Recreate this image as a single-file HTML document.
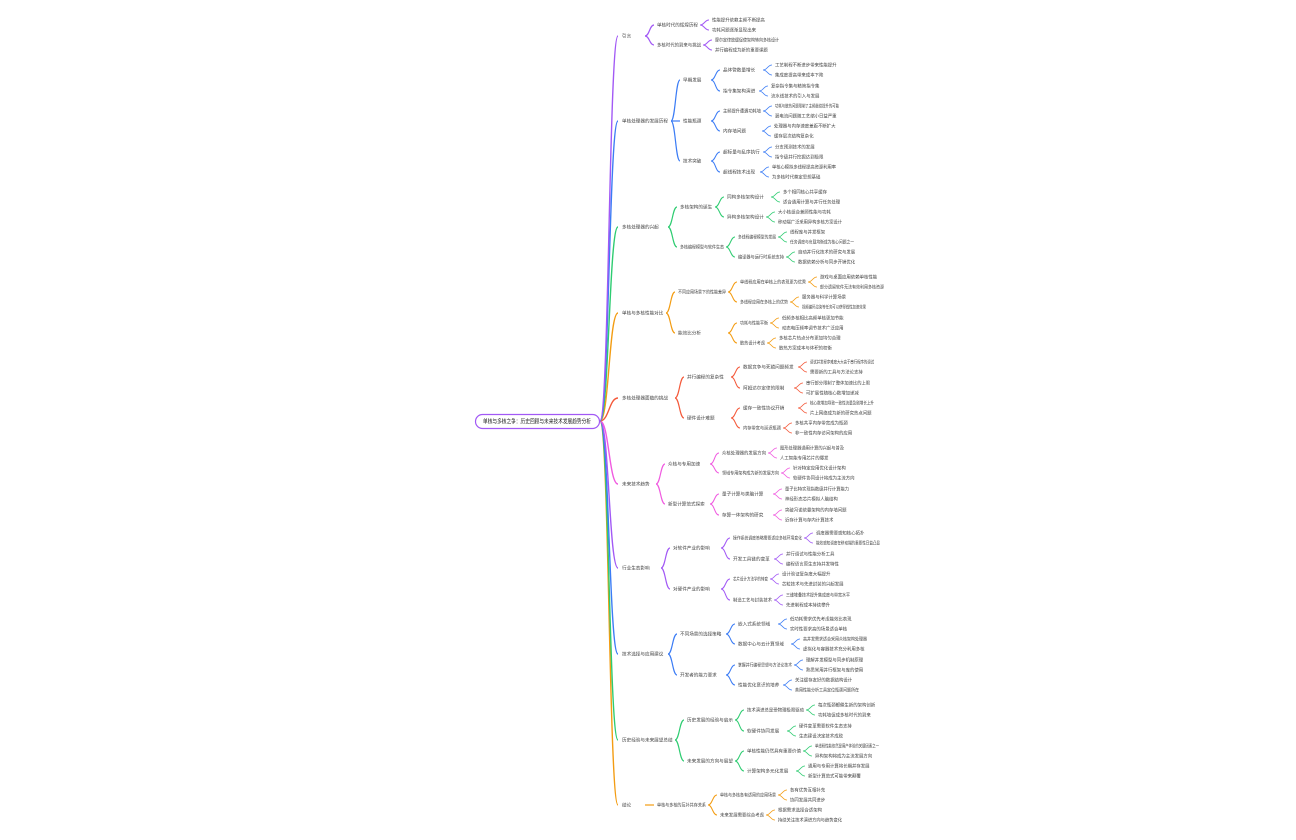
<!DOCTYPE html>
<html><head><meta charset="utf-8"><style>
html,body{margin:0;padding:0;background:#fff;width:1296px;height:840px;overflow:hidden}
svg text{font-family:"Liberation Sans","Noto Sans CJK SC",sans-serif;font-size:4.6px;fill:#444}
</style></head><body>
<svg id="m" width="1296" height="840" xmlns="http://www.w3.org/2000/svg">
<rect x="475.5" y="414.5" width="124" height="14" rx="7" fill="#fff" stroke="#a259f5" stroke-width="1.2"/>
<text x="483" y="423.5" style="font-size:6px;fill:#222" textLength="108" lengthAdjust="spacingAndGlyphs">单核与多核之争：历史回顾与未来技术发展趋势分析</text>
</svg>
<script>
var C=["#a259f5","#3b7cf5","#2ecc71","#f39c12","#f4593a","#f05be0","#a259f5","#3b7cf5","#2ecc71","#f39c12"];
function N(t,x,y,k){return {t:t,x:x,y:y,k:k||[]};}
function L(x,y,a,b){return [N(a,x,y-5),N(b,x,y+5)];}
var D=[
N("引言",622,36,[N("单核时代的辉煌历程",657,25,L(712,25,"性能提升依赖主频不断提高","功耗问题逐渐显现出来")),N("多核时代的到来与挑战",657,45,L(715,45,"摩尔定律放缓促使架构转向多核设计","并行编程成为新的重要课题"))]),
N("单核处理器的发展历程",622,121,[
 N("早期发展",683,80,[N("晶体管数量增长",723,70,L(775,70,"工艺制程不断进步带来性能提升","集成度提高带来成本下降")),N("指令集架构演进",723,91,L(771,91,"复杂指令集与精简指令集","流水线技术的引入与发展"))]),
 N("性能瓶颈",683,121,[N("主频提升遭遇功耗墙",723,111,L(775,111,"功耗与散热问题限制了主频继续提升的可能","漏电流问题随工艺缩小日益严重")),N("内存墙问题",723,131,L(774,131,"处理器与内存速度差距不断扩大","缓存层次结构复杂化"))]),
 N("技术突破",683,161,[N("超标量与乱序执行",723,152,L(775,152,"分支预测技术的发展","指令级并行挖掘达到极限")),N("超线程技术出现",723,172,L(772,172,"单核心模拟多线程提高资源利用率","为多核时代奠定思想基础"))])]),
N("多核处理器的兴起",622,227,[
 N("多核架构的诞生",680,207,[N("同构多核架构设计",727,197,L(783,197,"多个相同核心共享缓存","适合通用计算与并行任务处理")),N("异构多核架构设计",727,217,L(778,217,"大小核组合兼顾性能与功耗","移动端广泛采用异构多核方案设计"))]),
 N("多核编程模型与软件生态",680,247,[N("多线程编程模型的发展",738,237,L(790,237,"线程库与并发框架","任务调度与负载均衡成为核心问题之一")),N("编译器与运行时系统支持",738,257,L(798,257,"自动并行化技术的研究与发展","数据依赖分析与同步开销优化"))])]),
N("单核与多核性能对比",622,313,[
 N("不同应用场景下的性能差异",678,292,[N("单线程应用在单核上的表现更为优秀",740,282,L(820,282,"游戏与桌面应用依赖单核性能","部分遗留软件无法有效利用多核资源")),N("多线程应用在多核上的优势",740,302,L(802,302,"服务器与科学计算场景","视频编码渲染等任务可以获得线性加速效果"))]),
 N("能效比分析",678,333,[N("功耗与性能平衡",740,323,L(782,323,"低频多核相比高频单核更加节能","动态电压频率调节技术广泛应用")),N("散热设计考虑",740,343,L(779,343,"多核芯片热点分布更加均匀合理","散热方案成本与体积的权衡"))])]),
N("多核处理器面临的挑战",622,398,[
 N("并行编程的复杂性",687,377,[N("数据竞争与死锁问题频发",743,367,L(810,367,"调试并发程序难度大大高于串行程序的调试","需要新的工具与方法论支持")),N("阿姆达尔定律的限制",743,388,L(806,388,"串行部分限制了整体加速比的上限","可扩展性随核心数增加递减"))]),
 N("硬件设计难题",687,418,[N("缓存一致性协议开销",743,408,L(810,408,"核心数增加导致一致性流量急剧增长上升","片上网络成为新的研究热点问题")),N("内存带宽与延迟瓶颈",743,428,L(795,428,"多核共享内存带宽成为瓶颈","非一致性内存访问架构的应用"))])]),
N("未来技术趋势",622,484,[
 N("众核与专用加速",668,464,[N("众核处理器的发展方向",722,453,L(780,453,"图形处理器通用计算的兴起与普及","人工智能专用芯片的爆发")),N("领域专用架构成为新的发展方向",722,473,L(793,473,"针对特定应用优化设计架构","软硬件协同设计将成为主流方向"))]),
 N("新型计算范式探索",668,504,[N("量子计算与类脑计算",722,494,L(785,494,"量子比特实现指数级并行计算能力","神经形态芯片模拟人脑结构")),N("存算一体架构的研究",722,515,L(785,515,"突破冯诺依曼架构的内存墙问题","近存计算与存内计算技术"))])]),
N("行业生态影响",622,568,[
 N("对软件产业的影响",673,548,[N("操作系统调度策略需要适应多核环境变化",733,538,L(816,538,"调度器需要感知核心拓扑","能效感知调度在移动端的重要性日益凸显")),N("开发工具链的变革",733,559,L(786,559,"并行调试与性能分析工具","编程语言原生支持并发特性"))]),
 N("对硬件产业的影响",673,589,[N("芯片设计方法学的转变",733,579,L(782,579,"设计验证复杂度大幅提升","芯粒技术与先进封装的兴起发展")),N("制造工艺与封装技术",733,600,L(786,600,"三维堆叠技术提升集成度与带宽水平","先进制程成本持续攀升"))])]),
N("技术选择与应用建议",622,654,[
 N("不同场景的选择策略",680,634,[N("嵌入式系统领域",738,624,L(790,624,"低功耗需求优先考虑能效比表现","实时性要求高的场景适合单核")),N("数据中心与云计算领域",738,644,L(803,644,"高并发需求适合采用众核架构处理器","虚拟化与容器技术充分利用多核"))]),
 N("开发者的能力要求",680,675,[N("掌握并行编程思想与方法论技术",738,665,L(806,665,"理解并发模型与同步机制原理","熟悉常用并行框架与库的使用")),N("性能优化意识的培养",738,685,L(795,685,"关注缓存友好的数据结构设计","善用性能分析工具定位瓶颈问题所在"))])]),
N("历史经验与未来展望总结",622,740,[
 N("历史发展的经验与启示",687,720,[N("技术演进总是受物理极限驱动",747,710,L(818,710,"每次瓶颈都催生新的架构创新","功耗墙促成多核时代的到来")),N("软硬件协同发展",747,731,L(799,731,"硬件变革需要软件生态支持","生态建设决定技术成败"))]),
 N("未来发展的方向与展望",687,761,[N("单核性能仍然具有重要价值",747,751,L(815,751,"单线程性能依然是用户体验的关键因素之一","异构架构将成为主流发展方向")),N("计算架构多元化发展",747,771,L(808,771,"通用与专用计算将长期并存发展","新型计算范式可能带来颠覆"))])]),
N("结论",622,805,[N("单核与多核的互补共存关系",657,805,[N("单核与多核各有适用的应用场景",720,795,L(790,795,"各有优势互相补充","协同发展共同进步")),N("未来发展需要综合考虑",720,815,L(778,815,"根据需求选择合适架构","持续关注技术演进方向与趋势变化"))])])
];
var s=document.getElementById("m"),NS="http://www.w3.org/2000/svg";
function path(d,c,w){var p=document.createElementNS(NS,"path");p.setAttribute("d",d);p.setAttribute("fill","none");p.setAttribute("stroke",c);p.setAttribute("stroke-width",w);s.insertBefore(p,s.firstChild);}
function width(n){if(n.k.length)return n.k[0].x-14-n.x;return Math.min(n.t.length*4.4,64);}
function txt(n){var t=document.createElementNS(NS,"text");t.setAttribute("x",n.x);t.setAttribute("y",n.y+1.6);var w=width(n);if(n.t.length*4.6>w){t.setAttribute("textLength",w);t.setAttribute("lengthAdjust","spacingAndGlyphs");}t.textContent=n.t;s.appendChild(t);}
function curve(x1,y1,x2,y2,c,w){var m=(x1+x2)/2;path("M"+x1+","+y1+" C"+m+","+y1+" "+m+","+y2+" "+x2+","+y2,c,w);}
function draw(n,c,w){txt(n);var r=n.x+width(n);n.k.forEach(function(k){curve(r+2,n.y,k.x-3,k.y,c,w);draw(k,c,Math.max(w-0.2,0.8));});}
D.forEach(function(n,i){var c=C[i];curve(600,421,618,n.y,c,1.4);draw(n,c,1.2);});
</script>
</body></html>
